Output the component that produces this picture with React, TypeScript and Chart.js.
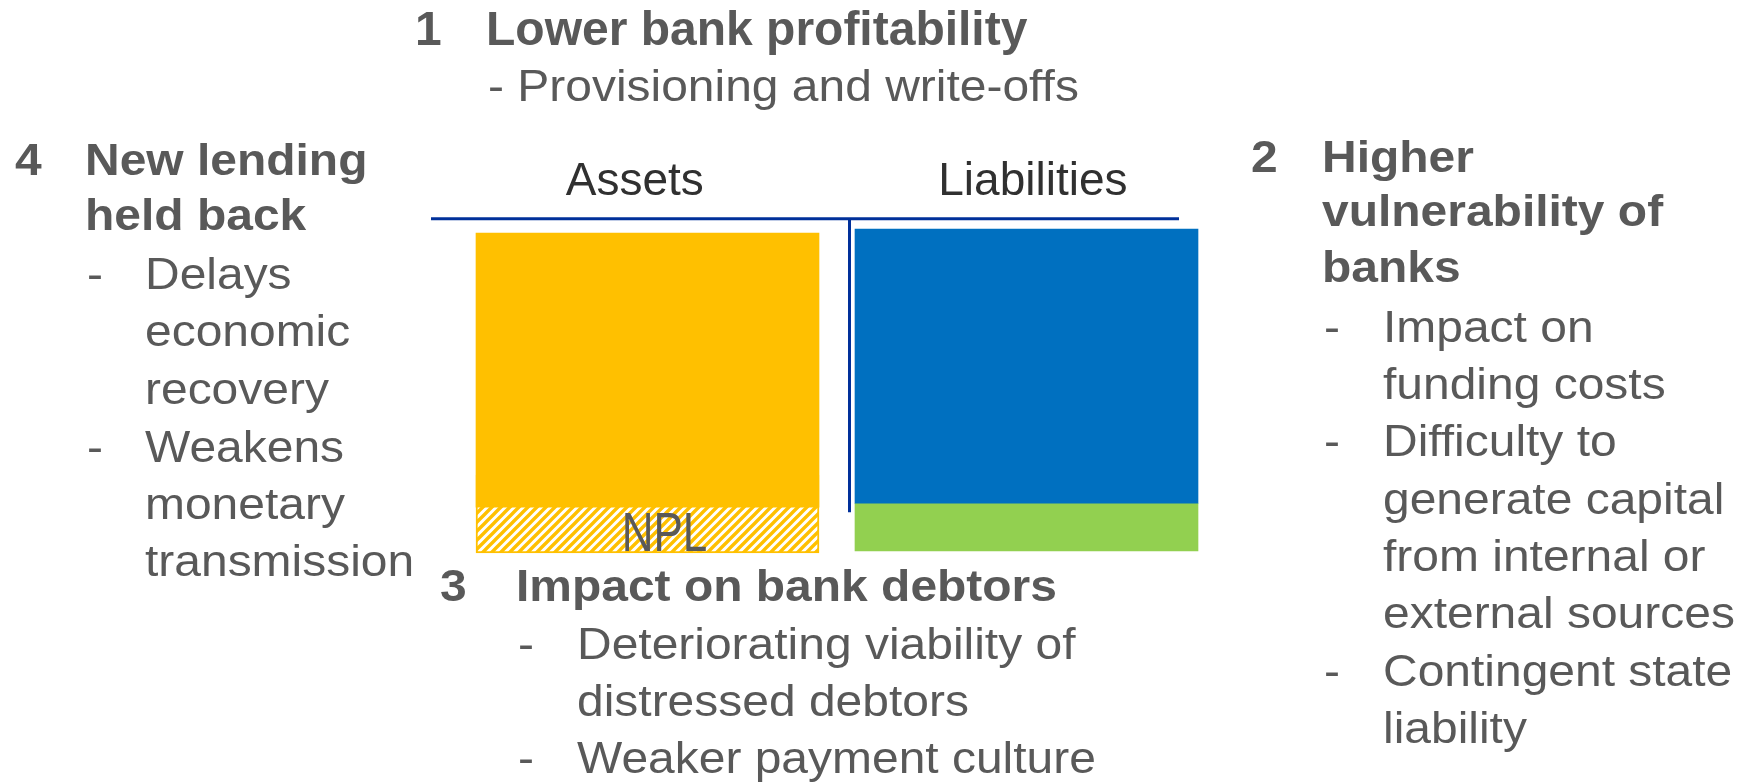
import React, { useEffect, useRef } from "react";
import { Chart, registerables } from "chart.js";

Chart.register(...registerables);

// ---------- chart data (schematic balance sheet, arbitrary units 0-100) ----------
const categories = ["Assets", "Liabilities"];
const performingAssets: ([number, number] | null)[] = [[14.2, 95.7], null];
const nplAssets: ([number, number] | null)[] = [[0.6, 23.7], null];
const liabilitiesFunding: ([number, number] | null)[] = [null, [15.4, 96.9]];
const capitalBuffer: ([number, number] | null)[] = [null, [1.2, 15.4]];
const nplLabel = "NPL";
const scaleMin = 0;
const scaleMax = 100;
const dividerBottomValue = 12.7;

// ---------- text content ----------
const block1Number = "1";
const block1Lines: [string, string][] = [
  ["h", "Lower bank profitability"],
  ["p", "- Provisioning and write-offs"],
];
const block2Number = "2";
const block2Lines: [string, string][] = [
  ["h", "Higher"],
  ["h", "vulnerability of"],
  ["h", "banks"],
  ["d", "Impact on"],
  ["c", "funding costs"],
  ["d", "Difficulty to"],
  ["c", "generate capital"],
  ["c", "from internal or"],
  ["c", "external sources"],
  ["d", "Contingent state"],
  ["c", "liability"],
];
const block3Number = "3";
const block3Lines: [string, string][] = [
  ["h", "Impact on bank debtors"],
  ["d", "Deteriorating viability of"],
  ["c", "distressed debtors"],
  ["d", "Weaker payment culture"],
];
const block4Number = "4";
const block4Lines: [string, string][] = [
  ["h", "New lending"],
  ["h", "held back"],
  ["d", "Delays"],
  ["c", "economic"],
  ["c", "recovery"],
  ["d", "Weakens"],
  ["c", "monetary"],
  ["c", "transmission"],
];

// ---------- layout / style ----------
const FONT = "'Liberation Sans', Arial, Helvetica, sans-serif";
const TEXT_GRAY = "#595959";
const STRETCH = 1.09;

type BlockLayout = {
  numX: number;
  headX: number;
  dashX: number;
  textX: number;
  size: number;
  headSize: number;
  baselines: number[];
};

const layout1: BlockLayout = { numX: 415, headX: 486, dashX: 488, textX: 488, size: 44, headSize: 48, baselines: [45.5, 101.5] };
const layout2: BlockLayout = { numX: 1251, headX: 1322, dashX: 1324, textX: 1383, size: 44, headSize: 44, baselines: [172.5, 226.5, 282, 342, 399, 456, 514, 571, 628, 686, 743] };
const layout3: BlockLayout = { numX: 440, headX: 516, dashX: 518, textX: 577, size: 44, headSize: 44, baselines: [601, 659.5, 716.5, 773] };
const layout4: BlockLayout = { numX: 15, headX: 84.5, dashX: 87, textX: 145, size: 44, headSize: 44, baselines: [175, 230.5, 289, 346, 404, 462, 519, 576] };

// small horizontal nudges of the category labels (in spaces) to match the original placement
const tickLabelText = ["Assets  ", " Liabilities"];

function TextLine(props: { x: number; base: number; size: number; bold?: boolean; stretch?: number; text: string }) {
  const { x, base, size, bold, stretch = STRETCH, text } = props;
  return (
    <div
      style={{
        position: "absolute",
        left: x,
        top: base - 0.8465 * size,
        fontFamily: FONT,
        fontSize: size,
        lineHeight: `${size}px`,
        fontWeight: bold ? 700 : 400,
        color: TEXT_GRAY,
        whiteSpace: "nowrap",
        transform: `scaleX(${stretch})`,
        transformOrigin: "0 0",
      }}
    >
      {text}
    </div>
  );
}

function Block(props: { num: string; lines: [string, string][]; lay: BlockLayout; headStretch?: number }) {
  const { num, lines, lay, headStretch = STRETCH } = props;
  const out: React.ReactNode[] = [];
  out.push(
    <TextLine key="n" x={lay.numX} base={lay.baselines[0]} size={lay.headSize} bold stretch={headStretch} text={num} />
  );
  lines.forEach(([kind, text], i) => {
    const base = lay.baselines[i];
    if (kind === "h") {
      out.push(<TextLine key={i} x={lay.headX} base={base} size={lay.headSize} bold stretch={headStretch} text={text} />);
    } else if (kind === "p") {
      out.push(<TextLine key={i} x={lay.dashX} base={base} size={lay.size} text={text} />);
    } else if (kind === "d") {
      out.push(<TextLine key={i + "d"} x={lay.dashX} base={base} size={lay.size} text="-" />);
      out.push(<TextLine key={i} x={lay.textX} base={base} size={lay.size} text={text} />);
    } else {
      out.push(<TextLine key={i} x={lay.textX} base={base} size={lay.size} text={text} />);
    }
  });
  return <>{out}</>;
}

// decoration positions expressed in scale units
const axisLineFrom = -0.5712;
const axisLineTo = 1.4024;
const dividerAt = 0.533;

function makeHatch(): CanvasPattern | string {
  const c = document.createElement("canvas");
  c.width = 9;
  c.height = 9;
  const g = c.getContext("2d");
  if (!g) return "#FFC000";
  g.fillStyle = "#ffffff";
  g.fillRect(0, 0, 9, 9);
  g.strokeStyle = "#FFC000";
  g.lineWidth = 3.4;
  g.beginPath();
  g.moveTo(-2, 2);
  g.lineTo(2, -2);
  g.moveTo(0, 9);
  g.lineTo(9, 0);
  g.moveTo(7, 11);
  g.lineTo(11, 7);
  g.stroke();
  return g.createPattern(c, "repeat") || "#FFC000";
}

export default function App() {
  const canvasRef = useRef<HTMLCanvasElement | null>(null);

  useEffect(() => {
    const canvas = canvasRef.current;
    if (!canvas) return;
    const hatch = makeHatch();

    const decorPlugin = {
      id: "decor",
      afterDatasetsDraw(chart: any) {
        const { ctx } = chart;
        const x = chart.scales.x;
        const y = chart.scales.y;
        ctx.save();
        ctx.strokeStyle = "#00309A";
        ctx.lineWidth = 3;
        const yTop = y.getPixelForValue(scaleMax);
        ctx.beginPath();
        ctx.moveTo(x.getPixelForValue(axisLineFrom), yTop);
        ctx.lineTo(x.getPixelForValue(axisLineTo), yTop);
        ctx.stroke();
        const dx = x.getPixelForValue(dividerAt);
        ctx.beginPath();
        ctx.moveTo(dx, yTop);
        ctx.lineTo(dx, y.getPixelForValue(dividerBottomValue));
        ctx.stroke();
        // NPL label inside the hatched bar (text is drawn slightly tall, as in the original)
        const el = chart.getDatasetMeta(1).data[0];
        if (el) {
          ctx.translate(el.x + 17, el.base - 2);
          ctx.scale(1.0, 1.27);
          ctx.font = `44px ${FONT}`;
          ctx.fillStyle = TEXT_GRAY;
          ctx.textAlign = "center";
          ctx.textBaseline = "alphabetic";
          ctx.fillText(nplLabel, 0, 0);
        }
        ctx.restore();
      },
    };

    const chart = new Chart(canvas, {
      type: "bar",
      data: {
        labels: categories,
        datasets: [
          { label: "Performing assets", data: performingAssets as any, backgroundColor: "#FFC000", borderWidth: 0 },
          { label: "NPL", data: nplAssets as any, backgroundColor: hatch as any, borderColor: "#FFC000", borderWidth: 2, borderSkipped: false },
          { label: "Liabilities", data: liabilitiesFunding as any, backgroundColor: "#0070C0", borderWidth: 0 },
          { label: "Capital", data: capitalBuffer as any, backgroundColor: "#92D050", borderWidth: 0 },
        ],
      },
      options: {
        animation: false,
        responsive: false,
        devicePixelRatio: 1,
        layout: { padding: { left: 458, right: 527, top: 145.5, bottom: 227 } },
        datasets: { bar: { grouped: false, barThickness: 343 } },
        scales: {
          x: {
            position: "top",
            grid: { display: false, drawTicks: false },
            border: { display: false },
            ticks: {
              font: { family: FONT, size: 46 },
              color: "#303030",
              padding: 9,
              callback: (_v: any, i: number) => tickLabelText[i] ?? categories[i],
            },
          },
          y: { display: false, min: scaleMin, max: scaleMax },
        },
        plugins: { legend: { display: false }, tooltip: { enabled: false } },
      } as any,
      plugins: [decorPlugin],
    });

    return () => chart.destroy();
  }, []);

  return (
    <div style={{ position: "fixed", left: 0, top: 0, width: 1743, height: 782, overflow: "hidden", background: "#ffffff" }}>
      <canvas ref={canvasRef} width={1743} height={782} style={{ position: "absolute", left: 0, top: 0, width: 1743, height: 782 }} />
      <Block num={block1Number} lines={block1Lines} lay={layout1} headStretch={1} />
      <Block num={block2Number} lines={block2Lines} lay={layout2} />
      <Block num={block3Number} lines={block3Lines} lay={layout3} />
      <Block num={block4Number} lines={block4Lines} lay={layout4} />
    </div>
  );
}
